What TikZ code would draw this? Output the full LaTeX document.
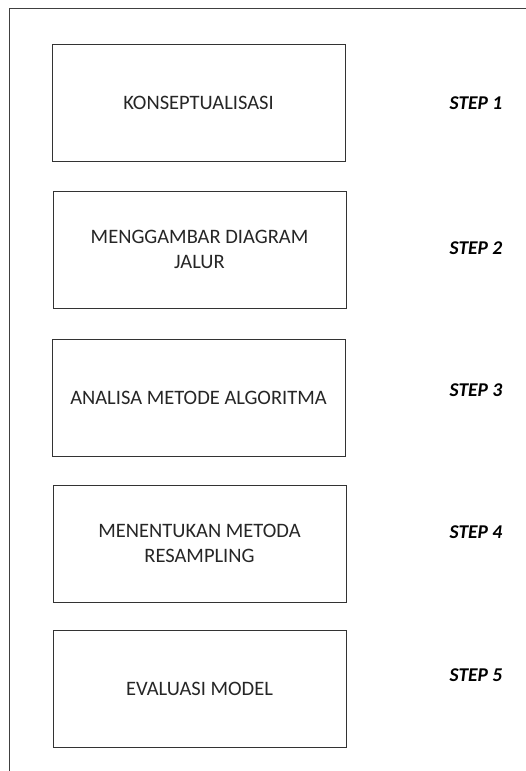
\documentclass[tikz,border=0pt]{standalone}
\usepackage{fontspec}
\setmainfont{Carlito}
\usetikzlibrary{positioning}

\begin{document}
\begin{tikzpicture}[x=1pt,y=-1pt,
    kotak/.style={draw=black!80,line width=0.9pt,minimum width=293pt,minimum height=117pt,align=center,text=black!85,font=\fontsize{20.5}{25}\selectfont},
    langkah/.style={text=black,font=\fontsize{19.5}{22}\selectfont\bfseries\itshape}]
    \useasboundingbox (0,0) rectangle (526,771);
    % bingkai
    \draw[black!75,line width=0.9pt] (526,8.5) -- (9.5,8.5) -- (9.5,771);
    \node[kotak] (konsep) at (198.5,102.5) {KONSEPTUALISASI};
    \node[kotak] (diagram) at (199.5,249.5) {MENGGAMBAR DIAGRAM\\JALUR};
    \node[kotak] (analisa) at (198.5,397.5) {ANALISA METODE ALGORITMA};
    \node[kotak] (resampling) at (199.5,543.5) {MENENTUKAN METODA\\RESAMPLING};
    \node[kotak] (evaluasi) at (199.5,688.5) {EVALUASI MODEL};
    \node[langkah] (step1) at (476,103) {STEP 1};
    \node[langkah] (step2) at (476,248) {STEP 2};
    \node[langkah] (step3) at (476,390) {STEP 3};
    \node[langkah] (step4) at (476,532) {STEP 4};
    \node[langkah] (step5) at (476,675) {STEP 5};
\end{tikzpicture}
\end{document}
